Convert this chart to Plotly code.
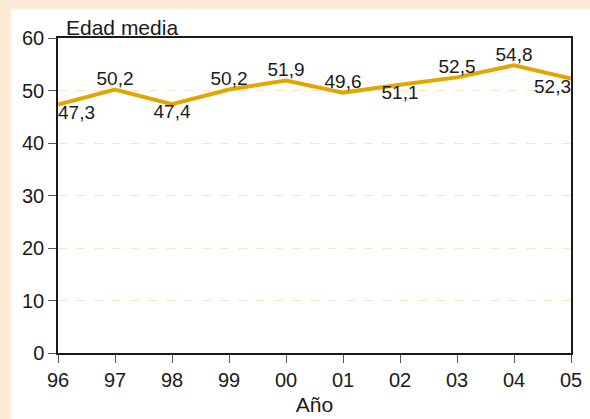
import plotly.graph_objects as go

# Edad media por año
years = ["96", "97", "98", "99", "00", "01", "02", "03", "04", "05"]
edad_media = [47.3, 50.2, 47.4, 50.2, 51.9, 49.6, 51.1, 52.5, 54.8, 52.3]
label_pos = ["bottom right", "top center", "bottom center", "top center", "top center",
             "top center", "bottom center", "top center", "top center", "bottom left"]
y_ticks = [0, 10, 20, 30, 40, 50, 60]

FONT = "Liberation Sans, Arial, Helvetica, sans-serif"
PEACH = "#fcebd6"

x_idx = list(range(len(years)))

fig = go.Figure(go.Scatter(
    x=x_idx,
    y=edad_media,
    mode="lines+text",
    text=[f"{v:.1f}".replace(".", ",") for v in edad_media],
    textposition=label_pos,
    textfont=dict(family=FONT, size=19, color="#1a1a1a"),
    line=dict(color="#e3a600", width=4),
    hoverinfo="skip",
    cliponaxis=False,
))

fig.update_layout(
    width=590,
    height=419,
    margin=dict(l=58, r=19, t=38, b=66),
    paper_bgcolor="white",
    plot_bgcolor="white",
    showlegend=False,
    font=dict(family=FONT, size=20, color="#1a1a1a"),
    shapes=[
        # peach strips along the top and left edges
        dict(type="rect", xref="paper", yref="paper", layer="below",
             x0=-0.2, x1=1.1, y0=1.093, y1=1.25,
             fillcolor=PEACH, line=dict(width=0)),
        dict(type="rect", xref="paper", yref="paper", layer="below",
             x0=-0.2, x1=-0.0916, y0=-0.3, y1=1.25,
             fillcolor=PEACH, line=dict(width=0)),
    ],
    annotations=[
        dict(text="Edad media", xref="paper", yref="paper", x=0.012, y=1.0,
             xanchor="left", yanchor="bottom", showarrow=False, yshift=-3,
             font=dict(family=FONT, size=21, color="#1a1a1a")),
    ],
)

fig.update_xaxes(
    range=[0, 9],
    tickvals=x_idx,
    ticktext=years,
    ticks="outside",
    ticklen=8,
    tickcolor="#555",
    showline=True,
    linecolor="#1a1a1a",
    linewidth=1.5,
    mirror=True,
    showgrid=False,
    zeroline=False,
    automargin=False,
    title=dict(text="Año", standoff=8, font=dict(family=FONT, size=21)),
)
fig.update_yaxes(
    range=[0, 60],
    tickvals=y_ticks,
    ticks="outside",
    ticklen=8,
    tickcolor="#555",
    showline=True,
    linecolor="#1a1a1a",
    linewidth=1.5,
    mirror=True,
    showgrid=True,
    gridcolor="#fde3c6",
    griddash="dash",
    gridwidth=1,
    zeroline=False,
    automargin=False,
)

fig.write_html("out.html", config={"displayModeBar": False},
               post_script="document.body.style.margin='0px';")
